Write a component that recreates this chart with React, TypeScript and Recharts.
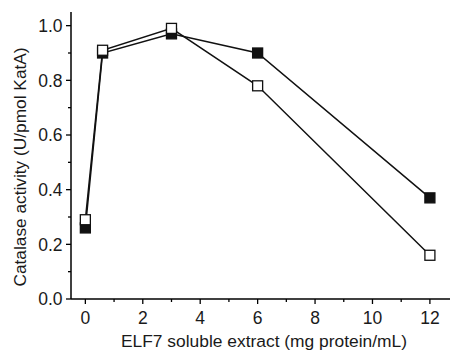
import React from 'react';
import { LineChart, Line, XAxis, YAxis } from 'recharts';

const xValues = [0, 0.6, 3, 6, 12];
const filledSeries = [0.26, 0.9, 0.97, 0.9, 0.37];
const openSeries = [0.29, 0.91, 0.99, 0.78, 0.16];
const xTicks = [0, 1, 2, 3, 4, 5, 6, 7, 8, 9, 10, 11, 12];
const yTicks = [0, 0.1, 0.2, 0.3, 0.4, 0.5, 0.6, 0.7, 0.8, 0.9, 1.0];
const xTitle = 'ELF7 soluble extract (mg protein/mL)';
const yTitle = 'Catalase activity (U/pmol KatA)';

const data = xValues.map((x, i) => ({ x, filled: filledSeries[i], open: openSeries[i] }));

const FONT = '"Liberation Sans", Arial, sans-serif';
const TEXT = '#1a1a1a';

const XTick = (props: any) => {
  const { x, y, payload } = props;
  const v = payload.value;
  const major = v % 2 === 0;
  return (
    <g>
      <line x1={x} x2={x} y1={y} y2={y + (major ? 5 : 3)} stroke="#000" strokeWidth={1.3} />
      {major && (
        <text x={x} y={y + 24.5} textAnchor="middle" fontFamily={FONT} fontSize={17.5} fill={TEXT}>
          {v}
        </text>
      )}
    </g>
  );
};

const YTick = (props: any) => {
  const { x, y, payload } = props;
  const v = payload.value;
  const idx = Math.round(v * 10);
  const major = idx % 2 === 0;
  return (
    <g>
      <line x1={x} x2={x - (major ? 5 : 3)} y1={y} y2={y} stroke="#000" strokeWidth={1.3} />
      {major && (
        <text x={x - 8.5} y={y + 6.3} textAnchor="end" fontFamily={FONT} fontSize={17.5} fill={TEXT}>
          {v.toFixed(1)}
        </text>
      )}
    </g>
  );
};

const makeDot = (fill: string) => (props: any) => {
  const { cx, cy, index } = props;
  if (cx == null || cy == null) return <g key={index} />;
  return (
    <rect
      key={index}
      x={cx - 5}
      y={cy - 5}
      width={10}
      height={10}
      fill={fill}
      stroke="#111"
      strokeWidth={1.3}
    />
  );
};

export default function App() {
  return (
    <div style={{ position: 'absolute', left: 0, top: 0, width: 451, height: 352, background: '#fff' }}>
      <LineChart width={451} height={352} data={data} margin={{ top: 12, right: 1, bottom: 0, left: 0 }}>
        <XAxis
          dataKey="x"
          type="number"
          domain={[-0.5, 12.7]}
          ticks={xTicks}
          interval={0}
          tick={<XTick />}
          tickLine={false}
          tickSize={0}
          tickMargin={0}
          height={53}
          axisLine={{ stroke: '#000', strokeWidth: 1.5 }}
          label={{
            content: () => (
              <text x={264} y={347} textAnchor="middle" fontFamily={FONT} fontSize={17.4} fill={TEXT}>
                {xTitle}
              </text>
            ),
          }}
        />
        <YAxis
          type="number"
          domain={[0, 1.05]}
          ticks={yTicks}
          interval={0}
          tick={<YTick />}
          tickLine={false}
          tickSize={0}
          tickMargin={0}
          width={71}
          axisLine={{ stroke: '#000', strokeWidth: 1.5 }}
          label={{
            content: () => (
              <text
                x={25.5}
                y={167}
                textAnchor="middle"
                transform="rotate(-90 25.5 167)"
                fontFamily={FONT}
                fontSize={17.3}
                fill={TEXT}
              >
                {yTitle}
              </text>
            ),
          }}
        />
        <Line
          dataKey="filled"
          stroke="#111"
          strokeWidth={1.5}
          isAnimationActive={false}
          dot={makeDot('#111')}
          activeDot={false}
        />
        <Line
          dataKey="open"
          stroke="#111"
          strokeWidth={1.5}
          isAnimationActive={false}
          dot={makeDot('#fff')}
          activeDot={false}
        />
      </LineChart>
    </div>
  );
}
